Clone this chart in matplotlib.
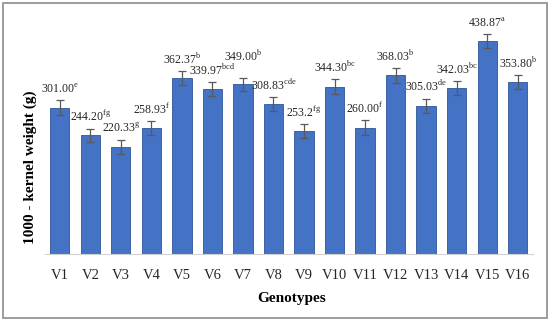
import matplotlib
matplotlib.use("Agg")
from matplotlib import pyplot as plt
from matplotlib.patches import Rectangle

plt.rcParams['font.family'] = ['Liberation Serif', 'DejaVu Serif']
plt.rcParams['mathtext.fontset'] = 'custom'
plt.rcParams['mathtext.rm'] = 'Liberation Serif'

genotypes = ['V1', 'V2', 'V3', 'V4', 'V5', 'V6', 'V7', 'V8',
             'V9', 'V10', 'V11', 'V12', 'V13', 'V14', 'V15', 'V16']
weights = [301.00, 244.20, 220.33, 258.93, 362.37, 339.97, 349.00, 308.83,
           253.20, 344.30, 260.00, 368.03, 305.03, 342.03, 438.87, 353.80]
value_text = ['301.00', '244.20', '220.33', '258.93', '362.37', '339.97', '349.00', '308.83',
              '253.2', '344.30', '260.00', '368.03', '305.03', '342.03', '438.87', '353.80']
letters = ['e', 'fg', 'g', 'f', 'b', 'bcd', 'b', 'cde',
           'fg', 'bc', 'f', 'b', 'de', 'bc', 'a', 'b']
errors = [15, 14, 15, 15, 15, 14, 14, 15,
          14, 15, 15, 15, 15, 14, 14, 15]

fig = plt.figure(figsize=(5.5, 3.21), dpi=100)
ax = fig.add_axes([0.081, 0.209, 0.888, 0.726])

x = range(len(genotypes))
ax.bar(x, weights, width=0.63, color='#4472C4', edgecolor='#2F5597', linewidth=0.6,
       yerr=errors, error_kw=dict(ecolor='#595959', elinewidth=0.9, capsize=3, capthick=0.9))

# extra lift (points) for labels that were moved up by hand
lift = {6: 7}
for i, (v, e) in enumerate(zip(weights, errors)):
    ax.annotate(value_text[i] + r'$^{\mathrm{' + letters[i] + '}}$', (i, v + e),
                xytext=(0, 3 + lift.get(i, 0)), textcoords='offset points',
                ha='center', va='bottom', fontsize=8.5, color='#262626')

ax.set_xlim(-0.5, 15.5)
ax.set_ylim(0, 480)
ax.set_xticks(list(x), genotypes, fontsize=10.5, color='#262626')
ax.tick_params(axis='x', length=0, pad=11)
ax.set_yticks([])
for s in ['top', 'right', 'left']:
    ax.spines[s].set_visible(False)
ax.spines['bottom'].set_color('#d0d0d0')

fig.text(0.53, 0.07, 'Genotypes', ha='center', va='center', fontsize=11, fontweight='bold')
fig.text(0.055, 0.48, '1000 - kernel weight (g)', ha='center', va='center', rotation=90,
         fontsize=11, fontweight='bold')

fig.patches.append(Rectangle((0.006, 0.009), 0.988, 0.982, transform=fig.transFigure,
                             fill=False, edgecolor='#8c8c8c', linewidth=1.2))

fig.savefig('out.png', dpi=100)
